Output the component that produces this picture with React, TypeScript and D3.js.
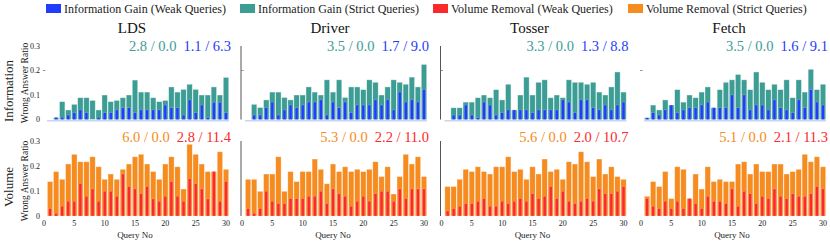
import React from 'react'
import * as d3 from 'd3'

const QUERIES = d3.range(1, 31)
const SYSTEMS = ['LDS', 'Driver', 'Tosser', 'Fetch']
const Y_TICKS = [0, 0.1, 0.2, 0.3]
const X_TICKS = [0, 5, 10, 15, 20, 25, 30]
const LEGEND = ['Information Gain (Weak Queries)', 'Information Gain (Strict Queries)', 'Volume Removal (Weak Queries)', 'Volume Removal (Strict Queries)']

// information gain rows
const ldsInfoStrict = [0, 0.007, 0.073, 0.039, 0.062, 0.089, 0.089, 0.078, 0.039, 0.1, 0.073, 0.078, 0.089, 0.1, 0.161, 0.112, 0.112, 0.089, 0.073, 0.078, 0.133, 0.112, 0.123, 0.144, 0.123, 0.1, 0.1, 0.133, 0.1, 0.172]
const ldsInfoWeak = [0, 0.009, 0.009, 0.018, 0.028, 0.039, 0.028, 0, 0.009, 0.028, 0.028, 0.039, 0.048, 0.048, 0.028, 0.039, 0.039, 0.039, 0.039, 0.059, 0.048, 0.048, 0.018, 0.08, 0.028, 0.059, 0.007, 0.07, 0.07, 0.028]
const driverInfoStrict = [0, 0.062, 0.049, 0.08, 0.112, 0.112, 0.09, 0.08, 0.1, 0.1, 0.133, 0.112, 0.1, 0.162, 0.112, 0.162, 0.09, 0.133, 0.133, 0.122, 0.162, 0.152, 0.1, 0.133, 0.162, 0.152, 0.144, 0.173, 0.133, 0.225]
const driverInfoWeak = [0, 0.018, 0.018, 0.048, 0.071, 0.018, 0.039, 0.059, 0.048, 0.059, 0.071, 0.071, 0.08, 0.018, 0.071, 0.048, 0.071, 0.028, 0.059, 0.059, 0.059, 0.08, 0.059, 0.08, 0.039, 0.112, 0.071, 0.08, 0.071, 0.122]
const tosserInfoStrict = [0, 0.048, 0.048, 0.071, 0.071, 0.089, 0.1, 0.089, 0.122, 0.08, 0.144, 0.039, 0.1, 0.173, 0.1, 0.152, 0.162, 0.089, 0.1, 0.089, 0.162, 0.152, 0.152, 0.144, 0.152, 0.112, 0.1, 0.133, 0.194, 0.112]
const tosserInfoWeak = [0, 0.018, 0.018, 0.059, 0.018, 0.007, 0.071, 0.059, 0.018, 0.028, 0.039, 0.039, 0.039, 0.039, 0.028, 0.039, 0.039, 0.039, 0.039, 0.08, 0.071, 0.028, 0.08, 0.08, 0.048, 0.039, 0.059, 0.039, 0.059, 0.071]
const fetchInfoStrict = [0.007, 0.059, 0.039, 0.08, 0.059, 0.122, 0.071, 0.1, 0.089, 0.112, 0.133, 0.048, 0.122, 0.152, 0.162, 0.184, 0.162, 0.122, 0.194, 0.152, 0.122, 0.144, 0.122, 0.162, 0.089, 0.162, 0.112, 0.205, 0.122, 0.144]
const fetchInfoWeak = [0.007, 0.028, 0.018, 0.039, 0.059, 0.028, 0.039, 0.048, 0.048, 0.059, 0.071, 0.048, 0.048, 0.048, 0.1, 0.048, 0.1, 0.039, 0.059, 0.059, 0.039, 0.08, 0.048, 0.039, 0.028, 0.08, 0.048, 0.122, 0.071, 0.059]

// volume removal rows
const ldsVolStrict = [0.138, 0.178, 0.147, 0.208, 0.247, 0.217, 0.217, 0.237, 0.197, 0.147, 0.168, 0.147, 0.187, 0.208, 0.237, 0.247, 0.208, 0.178, 0.147, 0.208, 0.237, 0.197, 0.108, 0.287, 0.247, 0.208, 0.178, 0.178, 0.257, 0.187]
const ldsVolWeak = [0.03, 0.011, 0.039, 0.059, 0.059, 0.129, 0.079, 0.108, 0.059, 0.099, 0.099, 0.079, 0.168, 0.118, 0.108, 0.089, 0.118, 0.068, 0.059, 0.079, 0.138, 0.079, 0.059, 0.149, 0.129, 0.108, 0.068, 0.178, 0.059, 0.138]
const driverVolStrict = [0.147, 0.147, 0.099, 0.168, 0.168, 0.237, 0.099, 0.178, 0.138, 0.178, 0.178, 0.228, 0.187, 0.129, 0.208, 0.178, 0.197, 0.178, 0.187, 0.178, 0.187, 0.217, 0.158, 0.197, 0.088, 0.158, 0.247, 0.208, 0.237, 0.158]
const driverVolWeak = [0.03, 0.011, 0.03, 0.099, 0.059, 0.05, 0.05, 0.07, 0.07, 0.07, 0.079, 0.079, 0.099, 0.05, 0.108, 0.089, 0.079, 0.039, 0.059, 0.079, 0.059, 0.089, 0.099, 0.099, 0.059, 0.108, 0.07, 0.108, 0.108, 0.108]
const tosserVolStrict = [0.118, 0.118, 0.147, 0.187, 0.178, 0.197, 0.178, 0.168, 0.197, 0.197, 0.237, 0.178, 0.187, 0.147, 0.197, 0.168, 0.228, 0.178, 0.187, 0.147, 0.217, 0.208, 0.257, 0.217, 0.158, 0.228, 0.168, 0.197, 0.158, 0.147]
const tosserVolWeak = [0.02, 0.03, 0.039, 0.05, 0.05, 0.059, 0.07, 0.039, 0.039, 0.059, 0.05, 0.059, 0.07, 0.059, 0.089, 0.07, 0.079, 0.118, 0.07, 0.099, 0.059, 0.05, 0.059, 0.07, 0.059, 0.108, 0.089, 0.089, 0.099, 0.118]
const fetchVolStrict = [0.079, 0.138, 0.118, 0.178, 0.07, 0.197, 0.187, 0.07, 0.168, 0.108, 0.197, 0.138, 0.147, 0.138, 0.138, 0.208, 0.217, 0.168, 0.208, 0.178, 0.178, 0.208, 0.208, 0.168, 0.178, 0.187, 0.247, 0.217, 0.237, 0.197]
const fetchVolWeak = [0.07, 0.039, 0.03, 0.059, 0.03, 0.059, 0.03, 0.07, 0.05, 0.03, 0.079, 0.059, 0.059, 0.05, 0.108, 0.039, 0.099, 0.089, 0.05, 0.079, 0.07, 0.108, 0.079, 0.07, 0.089, 0.079, 0.079, 0.089, 0.118, 0.108]

// per-panel summary notes: strict / weak
const infoStrictNote = ['2.8 / 0.0', '3.5 / 0.0', '3.3 / 0.0', '3.5 / 0.0']
const infoWeakNote = ['1.1 / 6.3', '1.7 / 9.0', '1.3 / 8.8', '1.6 / 9.1']
const volStrictNote = ['6.0 / 0.0', '5.3 / 0.0', '5.6 / 0.0', '5.1 / 0.0']
const volWeakNote = ['2.8 / 11.4', '2.2 / 11.0', '2.0 / 10.7', '2.1 / 11.3']

const BLUE = '#1f3dfb', TEAL = '#3c9d95', RED = '#fb2a2a', ORANGE = '#f68b20'
const FONT = '"Liberation Serif", "DejaVu Serif", serif'
const LEFTS = [44, 242, 441.5, 641]
const PW = 182
const ROWS = [
  { name: 'Information', strict: [ldsInfoStrict, driverInfoStrict, tosserInfoStrict, fetchInfoStrict], weak: [ldsInfoWeak, driverInfoWeak, tosserInfoWeak, fetchInfoWeak], sNote: infoStrictNote, wNote: infoWeakNote, sc: TEAL, wc: BLUE, y0: 119.5, y1: 46 },
  { name: 'Volume', strict: [ldsVolStrict, driverVolStrict, tosserVolStrict, fetchVolStrict], weak: [ldsVolWeak, driverVolWeak, tosserVolWeak, fetchVolWeak], sNote: volStrictNote, wNote: volWeakNote, sc: ORANGE, wc: RED, y0: 216, y1: 141 },
]

function Panel({ col, row, ri }: any) {
  const x = d3.scaleLinear().domain([0, 30]).range([LEFTS[col], LEFTS[col] + PW])
  const y = d3.scaleLinear().domain([0, 0.3]).range([row.y0, row.y1])
  const step = x(1) - x(0)
  const strict = row.strict[col], weak = row.weak[col]
  return (
    <g>
      {(col === 1 || col === 2) && <line x1={x(0) - 1} x2={x(0) - 1} y1={y(0.3)} y2={y(0)} stroke="#555" strokeWidth={1} />}
      {ri === 0 && <line x1={x(0) - 1} x2={x(0) + 1.5} y1={y(0.2)} y2={y(0.2)} stroke="#777" strokeWidth={0.8} />}
      {ri === 0 && <line x1={x(0.5)} x2={x(30.5)} y1={y(0) + 1.2} y2={y(0) + 1.2} stroke="#c9d3f5" strokeWidth={1.4} />}
      {QUERIES.map((q, i) => strict[i] > 0 && (
        <rect key={'s' + q} x={x(q) - step * 0.45} width={step * 0.9} y={y(strict[i])} height={y(0) - y(strict[i])}
          fill={row.sc} stroke="rgba(255,255,255,0.55)" strokeWidth={0.7} />
      ))}
      {QUERIES.map((q, i) => weak[i] > 0 && (
        <rect key={'w' + q} x={x(q) - step * 0.24} width={step * 0.48} y={y(weak[i])} height={y(0) - y(weak[i])}
          fill={row.wc} stroke="rgba(255,255,255,0.35)" strokeWidth={0.5} />
      ))}
      <text x={x(30) + 5} y={ri === 0 ? 51 : 142} textAnchor="end" fontSize={14.5} fontFamily={FONT}>
        <tspan fill={row.sc}>{row.sNote[col]}</tspan>
        <tspan dx={7} fill={row.wc}>{row.wNote[col]}</tspan>
      </text>
      {ri === 1 && X_TICKS.map(t => (
        <text key={t} x={x(t)} y={226} textAnchor="middle" fontSize={8} fontFamily={FONT} fill="#222">{t}</text>
      ))}
      {ri === 1 && <text x={x(15)} y={237.5} textAnchor="middle" fontSize={9} fontFamily={FONT} fill="#222">Query No</text>}
      {col === 0 && Y_TICKS.map(t => (
        <text key={t} x={40} y={y(t) + 2.8} textAnchor="end" fontSize={8} fontFamily={FONT} fill="#222">{t === 0 ? '0' : t.toFixed(1)}</text>
      ))}
    </g>
  )
}

export default function App() {
  const legendX = [46, 240, 433, 628]
  const legendC = [BLUE, TEAL, RED, ORANGE]
  return (
    <svg width={830} height={242} style={{ position: 'absolute', left: 0, top: 0, background: '#fff' }}>
      {LEGEND.map((l, i) => (
        <g key={l}>
          <rect x={legendX[i]} y={4} width={15} height={9} fill={legendC[i]} />
          <text x={legendX[i] + 18} y={12.5} fontSize={12} fontFamily={FONT} fill="#222">{l}</text>
        </g>
      ))}
      {SYSTEMS.map((s, i) => (
        <text key={s} x={LEFTS[i] + PW / 2 - 3} y={33} textAnchor="middle" fontSize={15} fontFamily={FONT} fill="#111">{s}</text>
      ))}
      {ROWS.map((row, ri) => (
        <g key={row.name}>
          <text transform={`translate(13,${ri === 0 ? 91 : 187}) rotate(-90)`} textAnchor="middle" fontSize={13} fontFamily={FONT} fill="#222">{row.name}</text>
          <text transform={`translate(28,${ri === 0 ? 83 : 181}) rotate(-90)`} textAnchor="middle" fontSize={9.5} fontFamily={FONT} fill="#222">Wrong Answer Ratio</text>
          {SYSTEMS.map((s, col) => <Panel key={s} col={col} row={row} ri={ri} />)}
        </g>
      ))}
    </svg>
  )
}
